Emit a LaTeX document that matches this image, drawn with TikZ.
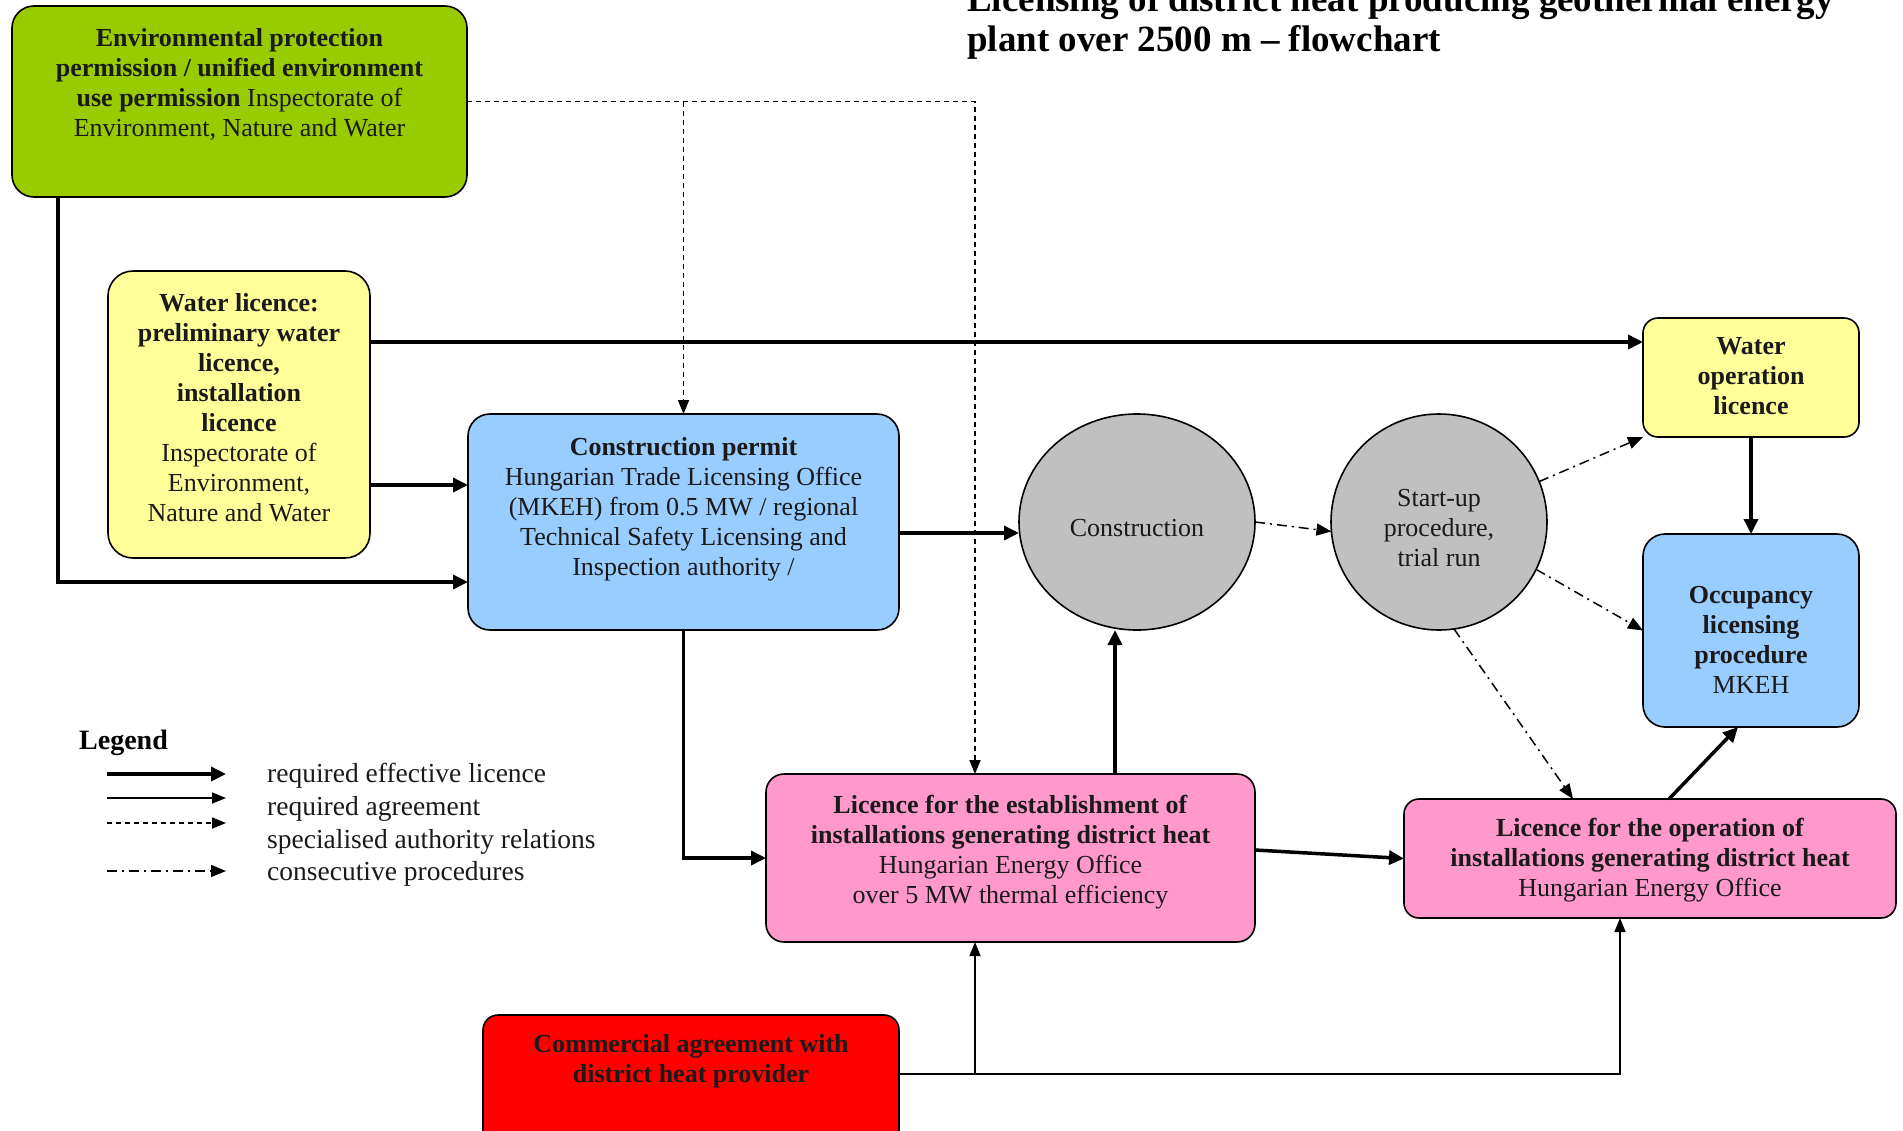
\documentclass[tikz,border=0pt]{standalone}
\usepackage{fontspec}
\setmainfont{Liberation Serif}
\usetikzlibrary{arrows.meta,shapes.geometric,calc}
\definecolor{cgreen}{HTML}{99CC00}
\definecolor{cyellow}{HTML}{FFFF99}
\definecolor{cblue}{HTML}{99CCFF}
\definecolor{cgray}{HTML}{C0C0C0}
\definecolor{cpink}{HTML}{FF99CC}
\definecolor{cred}{HTML}{FF0000}
\definecolor{ctext}{HTML}{1A1A1A}
\tikzset{
  box/.style={draw, line width=1.6pt, rounded corners=20pt, inner sep=0pt, outer sep=0pt},
  oval/.style={draw, ellipse, line width=1.6pt, fill=cgray, inner sep=0pt, outer sep=0pt},
  txt/.style={align=center, inner sep=0pt, text=ctext, font=\fontsize{26}{30}\selectfont},
  lic/.style={line width=3.5pt, -{Triangle[length=15pt,width=14pt]}},
  agr/.style={line width=1.5pt, -{Triangle[length=14pt,width=11pt]}},
  spec/.style={line width=1.8pt, dash pattern=on 5pt off 4pt, -{Triangle[length=14pt,width=11pt]}},
  cons/.style={line width=1.5pt, dash pattern=on 10pt off 5pt on 2pt off 5pt, -{Triangle[length=15pt,width=12pt]}},
}
\begin{document}
\begin{tikzpicture}[x=1pt,y=-1pt]
\useasboundingbox (0,0) rectangle (1903,1130);

% title
\node[anchor=base west, inner sep=0pt, font=\bfseries\fontsize{37}{36}\selectfont] (title1) at (967,11) {Licensing of district heat producing geothermal energy};
\node[anchor=base west, inner sep=0pt, font=\bfseries\fontsize{37}{36}\selectfont] (title2) at (967,51) {plant over 2500 m – flowchart};

% boxes
\node[box, fill=cgreen, rounded corners=22pt, minimum width=455, minimum height=191] (env) at (239.5,101.5) {};
\node[txt, anchor=north] (envtxt) at ($(env.north)+(0,22)$) {\textbf{Environmental protection}\\\textbf{permission / unified environment}\\\textbf{use permission} Inspectorate of\\Environment, Nature and Water};

\node[box, fill=cyellow, rounded corners=25pt, minimum width=262, minimum height=287] (wl) at (239,414.5) {};
\node[txt, anchor=north] (wltxt) at ($(wl.north)+(0,22)$) {\textbf{Water licence:}\\\textbf{preliminary water}\\\textbf{licence,}\\\textbf{installation}\\\textbf{licence}\\Inspectorate of\\Environment,\\Nature and Water};

\node[box, fill=cblue, rounded corners=22pt, minimum width=431, minimum height=216] (cp) at (683.5,522) {};
\node[txt, anchor=north] (cptxt) at ($(cp.north)+(0,23)$) {\textbf{Construction permit}\\Hungarian Trade Licensing Office\\(MKEH) from 0.5 MW / regional\\Technical Safety Licensing and\\Inspection authority /};

\node[oval, minimum width=236, minimum height=216] (con) at (1137,522) {};
\node[txt] (contxt) at ($(con.center)+(0,6)$) {Construction};

\node[oval, minimum width=216, minimum height=216] (su) at (1439,522) {};
\node[txt] (sutxt) at ($(su.center)+(0,6)$) {Start-up\\procedure,\\trial run};

\node[box, fill=cyellow, rounded corners=15pt, minimum width=216, minimum height=119] (wop) at (1751,377.5) {};
\node[txt, anchor=north] (woptxt) at ($(wop.north)+(0,19)$) {\textbf{Water}\\\textbf{operation}\\\textbf{licence}};

\node[box, fill=cblue, rounded corners=22pt, minimum width=216, minimum height=193] (occ) at (1751,630.5) {};
\node[txt, anchor=north] (occtxt) at ($(occ.north)+(0,52)$) {\textbf{Occupancy}\\\textbf{licensing}\\\textbf{procedure}\\MKEH};

\node[box, fill=cpink, rounded corners=18pt, minimum width=489, minimum height=168] (est) at (1010.5,858) {};
\node[txt, anchor=north] (esttxt) at ($(est.north)+(0,21)$) {\textbf{Licence for the establishment of}\\\textbf{installations generating district heat}\\Hungarian Energy Office\\over 5 MW thermal efficiency};

\node[box, fill=cpink, rounded corners=15pt, minimum width=492, minimum height=119] (op) at (1650,858.5) {};
\node[txt, anchor=north] (optxt) at ($(op.north)+(0,19)$) {\textbf{Licence for the operation of}\\\textbf{installations generating district heat}\\Hungarian Energy Office};

\node[box, fill=cred, rounded corners=15pt, minimum width=416, minimum height=145] (com) at (691,1087.5) {};
\node[txt, anchor=north] (comtxt) at ($(com.north)+(0,19)$) {\textbf{Commercial agreement with}\\\textbf{district heat provider}};

% connectors
\draw[lic] ($(env.south west)+(46,0)$) |- ($(cp.south west)+(0,-48)$);
\coordinate (estdash) at ($(est.north west)+(209,0)$);
\draw[spec] (env.east) -| (estdash);
\draw[spec] (env.east -| cp.north) -- (cp.north);
\coordinate (wl1) at ($(wl.north east)+(0,71)$);
\draw[lic] (wl1) -- (wl1 -| wop.west);
\coordinate (wl2) at ($(wl.north east)+(0,214)$);
\draw[lic] (wl2) -- (wl2 -| cp.west);
\coordinate (cp1) at ($(cp.north east)+(0,119)$);
\draw[lic] (cp1) -- (cp1 -| con.west);
\draw[lic] (cp.south) |- (est.west);
\coordinate (est1) at ($(est.north west)+(349,0)$);
\draw[lic] (est1) -- (est1 |- con.south);
\draw[cons] (con.east) -- (su.185);
\draw[cons] (su.22) -- (wop.south west);
\draw[cons] (su.-26) -- (occ.west);
\draw[cons] (su.-82) -- ($(op.north west)+(169,0)$);
\draw[lic] (wop.south) -- (occ.north);
\draw[lic] ($(op.north west)+(265,0)$) -- ($(occ.south)+(-13,0)$);
\draw[lic] ($(est.east)+(0,-8)$) -- (op.west);
\coordinate (com1) at ($(com.east)+(0,-13.5)$);
\coordinate (opb) at ($(op.south west)+(216,0)$);
\coordinate (estb) at ($(est.south west)+(209,0)$);
\draw[agr] (com1) -| (opb);
\draw[agr] (com1 -| estb) -- (estb);

% legend
\node[anchor=west, inner sep=0pt, font=\bfseries\fontsize{28}{33}\selectfont] (legt) at (79,743) {Legend};
\coordinate (l1s) at (107,774); \coordinate (l1e) at (226,774);
\coordinate (l2s) at (107,798); \coordinate (l2e) at (226,798);
\coordinate (l3s) at (107,823); \coordinate (l3e) at (226,823);
\coordinate (l4s) at (107,871); \coordinate (l4e) at (226,871);
\draw[lic] (l1s) -- (l1e);
\draw[agr] (l2s) -- (l2e);
\draw[spec] (l3s) -- (l3e);
\draw[cons] (l4s) -- (l4e);
\tikzset{legtxt/.style={anchor=west, inner sep=0pt, text=ctext, font=\fontsize{27.5}{33}\selectfont}}
\node[legtxt] (lt1) at (267,776) {required effective licence};
\node[legtxt] (lt2) at (267,809) {required agreement};
\node[legtxt] (lt3) at (267,842) {specialised authority relations};
\node[legtxt] (lt4) at (267,874) {consecutive procedures};
\end{tikzpicture}
\end{document}
